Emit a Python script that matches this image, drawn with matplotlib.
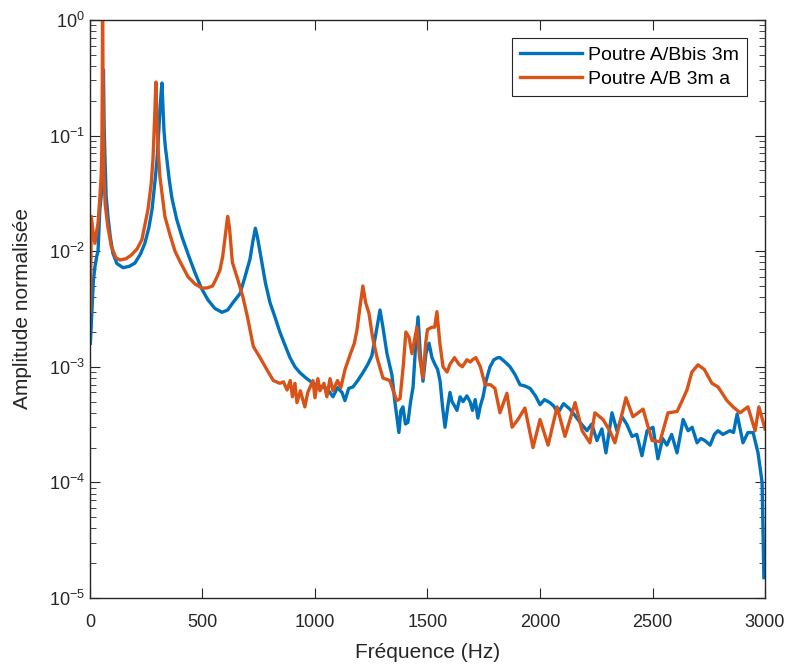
import numpy as np
import matplotlib
matplotlib.use("Agg")
import matplotlib.pyplot as plt
from matplotlib.ticker import FixedLocator, LogLocator, NullFormatter

plt.rcParams['font.family'] = ['Liberation Sans', 'DejaVu Sans']
plt.rcParams['mathtext.fontset'] = 'custom'
plt.rcParams['mathtext.rm'] = 'Liberation Sans'
plt.rcParams['mathtext.it'] = 'Liberation Sans'

# Poutre A/Bbis 3m (blue)
freq_bbis = [2, 9, 15, 22, 30, 36, 44, 50, 53, 57, 60, 63, 67, 72, 80, 90, 102, 120, 147, 175,
             200, 225, 244, 262, 276, 290, 298, 306, 311, 316, 320, 324, 329, 335, 342, 352, 364,
             385, 409, 438, 467, 495, 524, 555, 587, 612, 636, 667, 689, 711, 725, 735, 745, 764,
             780, 800, 822, 844, 866, 889, 911, 933, 960, 991, 1020, 1053, 1080, 1100, 1120, 1133,
             1150, 1169, 1190, 1213, 1235, 1253, 1270, 1289, 1302, 1320, 1342, 1355, 1373, 1382,
             1391, 1402, 1413, 1425, 1436, 1447, 1458, 1468, 1480, 1493, 1507, 1520, 1533, 1545,
             1556, 1567, 1578, 1590, 1600, 1609, 1620, 1631, 1645, 1658, 1675, 1689, 1700, 1712,
             1724, 1735, 1747, 1760, 1778, 1795, 1813, 1822, 1845, 1867, 1890, 1911, 1935, 1956,
             1980, 2000, 2020, 2044, 2060, 2080, 2105, 2133, 2155, 2178, 2209, 2230, 2253, 2275,
             2293, 2320, 2342, 2364, 2385, 2409, 2430, 2453, 2476, 2502, 2524, 2545, 2564, 2585,
             2609, 2636, 2658, 2676, 2698, 2715, 2733, 2756, 2775, 2791, 2813, 2844, 2860, 2876,
             2902, 2924, 2947, 2969, 2987, 2995]
amp_bbis = [1.6e-3, 3.1e-3, 5.5e-3, 7.3e-3, 9.0e-3, 1.0e-2, 2.3e-2, 3.0e-2, 4.4e-2, 0.12, 0.37,
            0.12, 0.062, 0.03, 2.0e-2, 1.35e-2, 9.6e-3, 7.8e-3, 7.2e-3, 7.4e-3,
            7.9e-3, 9.5e-3, 1.17e-2, 1.6e-2, 2.3e-2, 4.2e-2, 6.2e-2, 0.11, 0.166, 0.23, 0.285,
            0.19, 0.11, 0.08, 6.2e-2, 4.2e-2, 2.9e-2,
            1.9e-2, 1.33e-2, 9.2e-3, 6.5e-3, 4.8e-3, 3.8e-3, 3.2e-3, 2.96e-3, 3.1e-3, 3.6e-3,
            4.3e-3, 6.0e-3, 8.5e-3, 1.25e-2, 1.58e-2, 1.3e-2, 8.0e-3,
            5.3e-3, 3.6e-3, 2.7e-3, 2.0e-3, 1.55e-3, 1.2e-3, 1.0e-3, 8.9e-4, 8.0e-4, 7.2e-4,
            6.8e-4, 6.5e-4, 5.5e-4, 6.6e-4, 6.0e-4, 5.1e-4,
            6.5e-4, 6.7e-4, 7.6e-4, 8.9e-4, 1.05e-3, 1.25e-3, 1.9e-3, 3.1e-3, 2.2e-3, 1.3e-3,
            8.5e-4, 5.0e-4, 2.7e-4, 4.2e-4,
            4.5e-4, 3.2e-4, 3.3e-4, 5.0e-4, 6.7e-4, 1.5e-3, 2.7e-3, 1.3e-3, 7.5e-4, 1.3e-3,
            1.6e-3, 1.2e-3, 1.05e-3, 9.5e-4,
            7.5e-4, 4.5e-4, 3.0e-4, 4.5e-4, 6.0e-4, 5.0e-4, 4.6e-4, 4.2e-4, 5.5e-4, 5.0e-4,
            5.6e-4, 5.0e-4, 4.2e-4, 5.2e-4,
            3.6e-4, 4.6e-4, 5.5e-4, 7.5e-4, 1.0e-3, 1.15e-3, 1.2e-3, 1.2e-3, 1.1e-3, 1.0e-3,
            8.5e-4, 7.0e-4, 6.8e-4, 6.5e-4,
            5.6e-4, 4.7e-4, 5.2e-4, 4.9e-4, 4.6e-4, 4.0e-4, 4.8e-4, 4.3e-4, 3.8e-4, 3.3e-4,
            2.8e-4, 3.2e-4, 2.3e-4, 2.9e-4,
            1.8e-4, 4.0e-4, 2.8e-4, 3.7e-4, 3.2e-4, 2.5e-4, 2.6e-4, 1.7e-4, 2.8e-4, 3.0e-4,
            1.6e-4, 2.4e-4, 2.1e-4, 2.6e-4,
            1.8e-4, 3.5e-4, 2.8e-4, 3.0e-4, 2.2e-4, 2.4e-4, 2.3e-4, 2.1e-4, 2.6e-4, 2.8e-4,
            2.6e-4, 2.8e-4, 2.7e-4, 3.9e-4,
            2.2e-4, 2.7e-4, 2.7e-4, 1.8e-4, 1.0e-4, 1.5e-5]

# Poutre A/B 3m a (orange)
freq_b = [2, 6, 13, 22, 30, 36, 44, 50, 53, 55, 56, 58, 62, 68, 80, 95, 115, 133, 160, 185,
          210, 231, 258, 272, 280, 288, 293, 298, 304, 311, 333, 355, 378, 405, 436, 467, 498,
          520, 545, 565, 578, 590, 600, 612, 620, 633, 658, 680, 700, 726, 756, 787, 815, 844,
          860, 876, 890, 900, 911, 920, 935, 955, 968, 991, 1000, 1013, 1022, 1040, 1053, 1067,
          1080, 1100, 1115, 1133, 1156, 1175, 1187, 1200, 1213, 1225, 1240, 1256, 1276, 1302,
          1333, 1350, 1364, 1378, 1392, 1404, 1418, 1431, 1453, 1465, 1480, 1492, 1500, 1520,
          1532, 1542, 1555, 1569, 1587, 1600, 1620, 1640, 1655, 1675, 1690, 1700, 1715, 1735,
          1756, 1780, 1800, 1822, 1853, 1876, 1902, 1933, 1969, 2000, 2036, 2076, 2111, 2156,
          2187, 2222, 2244, 2280, 2310, 2333, 2382, 2413, 2458, 2498, 2533, 2569, 2609, 2630,
          2653, 2675, 2702, 2730, 2764, 2791, 2831, 2858, 2889, 2924, 2956, 2973, 3000]
amp_b = [3.0e-3, 2.0e-2, 1.5e-2, 1.17e-2, 1.5e-2, 1.75e-2, 2.9e-2, 4.5e-2, 7.5e-2, 0.3, 1.0,
         0.3, 4.4e-2, 2.5e-2, 1.6e-2, 1.1e-2, 8.8e-3, 8.4e-3, 8.6e-3, 9.3e-3,
         1.05e-2, 1.26e-2, 2.3e-2, 3.8e-2, 6.2e-2, 0.15, 0.29, 0.13, 7.0e-2, 4.4e-2, 2.0e-2,
         1.4e-2, 1.0e-2, 7.8e-3, 6.0e-3, 5.2e-3, 4.8e-3,
         4.8e-3, 5.0e-3, 6.0e-3, 6.9e-3, 9.0e-3, 1.3e-2, 2.0e-2, 1.6e-2, 8.0e-3, 5.6e-3,
         4.0e-3, 2.7e-3, 1.5e-3, 1.2e-3, 9.4e-4, 7.6e-4, 7.2e-4,
         7.4e-4, 6.3e-4, 7.6e-4, 5.5e-4, 7.2e-4, 4.9e-4, 6.2e-4, 4.5e-4, 6.0e-4, 7.6e-4,
         5.4e-4, 7.9e-4, 6.2e-4, 7.2e-4, 5.5e-4, 7.9e-4,
         6.2e-4, 7.6e-4, 6.6e-4, 9.4e-4, 1.27e-3, 1.6e-3, 2.1e-3, 3.3e-3, 5.0e-3, 3.6e-3,
         2.9e-3, 1.8e-3, 1.2e-3, 8.0e-4,
         7.6e-4, 6.0e-4, 5.1e-4, 5.3e-4, 1.0e-3, 2.0e-3, 1.8e-3, 1.3e-3, 2.2e-3, 1.2e-3,
         8.0e-4, 1.6e-3, 2.1e-3, 2.2e-3,
         2.2e-3, 3.0e-3, 1.6e-3, 1.0e-3, 9.0e-4, 1.05e-3, 1.2e-3, 1.05e-3, 1.0e-3, 1.15e-3,
         1.1e-3, 1.15e-3, 1.2e-3, 1.0e-3,
         7.0e-4, 7.0e-4, 6.5e-4, 4.0e-4, 5.9e-4, 3.0e-4, 3.5e-4, 4.4e-4, 2.0e-4, 3.5e-4,
         2.1e-4, 4.5e-4, 2.5e-4, 4.9e-4,
         2.8e-4, 2.2e-4, 4.0e-4, 3.5e-4, 2.8e-4, 2.2e-4, 5.4e-4, 3.7e-4, 4.3e-4, 2.3e-4,
         2.25e-4, 4.0e-4, 4.1e-4, 5.0e-4,
         6.3e-4, 9.0e-4, 1.04e-3, 9.5e-4, 7.2e-4, 6.7e-4, 5.1e-4, 4.5e-4, 4.0e-4, 4.5e-4,
         2.8e-4, 4.5e-4, 2.9e-4]

labels = ['Poutre A/Bbis 3m', 'Poutre A/B 3m a']
colors = ['#0072BD', '#D95319']
ytick_vals = [1e-5, 1e-4, 1e-3, 1e-2, 1e-1, 1e0]
ytick_labels = ['10$^{-5}$', '10$^{-4}$', '10$^{-3}$', '10$^{-2}$', '10$^{-1}$', '10$^{0}$']
xtick_vals = [0, 500, 1000, 1500, 2000, 2500, 3000]

fig = plt.figure(figsize=(7.89, 6.64), dpi=100)
ax = fig.add_axes([0.114, 0.0994, 0.8556, 0.8705])

ax.plot(freq_bbis, amp_bbis, color=colors[0], lw=2.4, label=labels[0])
ax.plot(freq_b, amp_b, color=colors[1], lw=2.4, label=labels[1])

ax.set_yscale('log')
ax.set_xlim(0, 3000)
ax.set_ylim(1e-5, 1)
ax.xaxis.set_major_locator(FixedLocator(xtick_vals))
ax.yaxis.set_major_locator(FixedLocator(ytick_vals))
ax.set_yticklabels(ytick_labels)
ax.yaxis.set_minor_locator(LogLocator(base=10, subs=np.arange(2, 10), numticks=20))
ax.yaxis.set_minor_formatter(NullFormatter())

dark = '#262626'
for s in ax.spines.values():
    s.set_color(dark)
    s.set_linewidth(1.0)
ax.tick_params(which='both', direction='in', top=True, right=True, colors=dark,
               labelsize=13, labelcolor=dark)
ax.tick_params(which='major', length=7)
ax.tick_params(which='minor', length=4)
ax.tick_params(axis='x', pad=11.5)

ax.set_xlabel('Fréquence (Hz)', fontsize=15, color=dark, labelpad=9)
ax.set_ylabel('Amplitude normalisée', fontsize=15, color=dark, labelpad=12)

leg = ax.legend(loc='upper right', fontsize=14, fancybox=False, framealpha=1,
                edgecolor=dark, handlelength=3.2, handletextpad=0.3, borderaxespad=0.95,
                borderpad=0.4, labelspacing=0.35)
leg.get_frame().set_linewidth(0.8)

fig.savefig('out.png', dpi=100)
